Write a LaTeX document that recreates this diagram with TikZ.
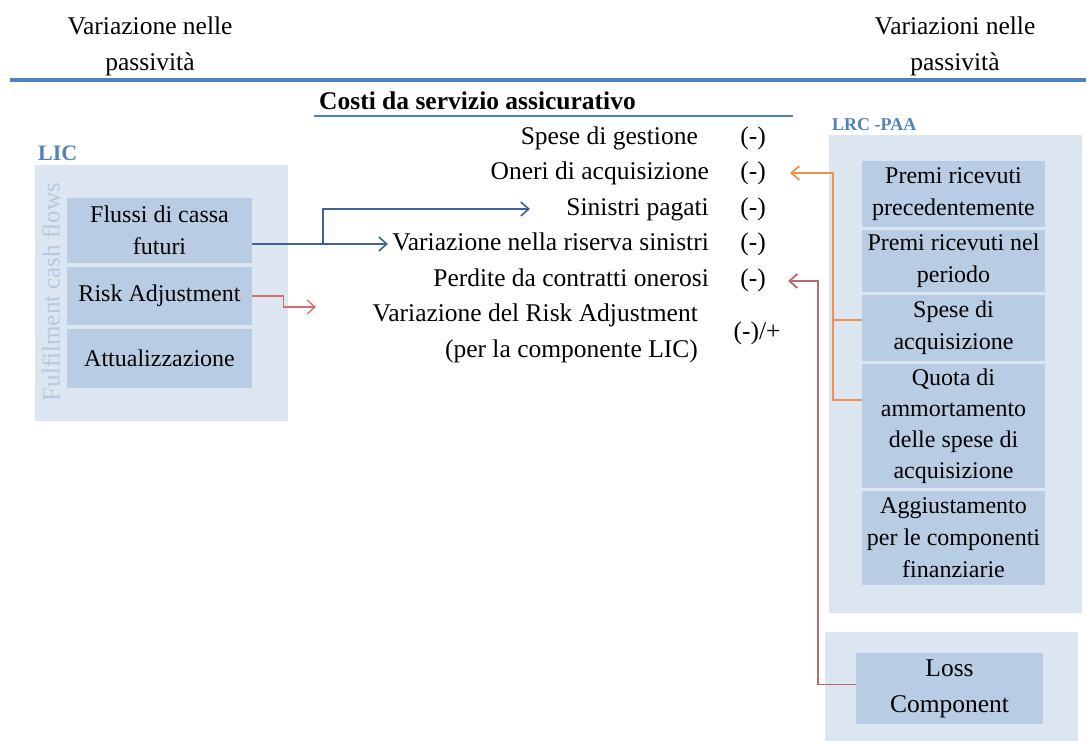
\documentclass[tikz,border=0pt]{standalone}
\usepackage{fontspec}
\setmainfont{Liberation Serif}
\usetikzlibrary{arrows.meta}

\definecolor{outerfill}{HTML}{DCE6F1}
\definecolor{innerfill}{HTML}{B8CCE4}
\definecolor{rulecol}{HTML}{4F81BD}
\definecolor{flowblue}{HTML}{3D6396}
\definecolor{rasalmon}{HTML}{D0716E}
\definecolor{lossred}{HTML}{B86A6A}
\definecolor{acqorange}{HTML}{F0924C}
\definecolor{sidelabel}{HTML}{B3C8E2}

\newcommand\fsz[2]{\fontsize{#1}{#2}\selectfont}

\tikzset{
  panel/.style={fill=outerfill, inner sep=0pt},
  item/.style={fill=innerfill, inner sep=0pt, align=center, font=\fsz{24}{32}},
  lineitem/.style={anchor=east, inner sep=0pt, text height=17pt, text depth=5pt, font=\fsz{25.5}{30}},
  sign/.style={inner sep=0pt, text height=17pt, text depth=5pt, font=\fsz{25.5}{30}},
  heading/.style={align=center, inner sep=0pt, font=\fsz{25.5}{36}},
  grouplabel/.style={anchor=west, inner sep=0pt, text=rulecol, font=\bfseries},
  arr/.style={-{Straight Barb[length=8pt,width=14pt]}},
  bluearr/.style={arr, draw=flowblue, line width=1.6pt},
  raarr/.style={arr, draw=rasalmon, line width=1.3pt},
  acqarr/.style={arr, draw=acqorange, line width=1.8pt},
  lossarr/.style={arr, draw=lossred, line width=1.8pt},
}

\begin{document}
\begin{tikzpicture}[x=1pt,y=-1pt]
\useasboundingbox (0,0) rectangle (1086,740);

% column headings and main rule
\node[heading] (hl) at (150,46) {Variazione nelle\\passività};
\node[heading] (hr) at (955,46) {Variazioni nelle\\passività};
\draw[rulecol, line width=4.5pt] (10,80) -- (1086,80);

% insurance service expenses
\node[anchor=west, inner sep=0pt, font=\fsz{25.5}{30}\bfseries] (costi) at (319,101) {Costi da servizio assicurativo};
\draw[rulecol, line width=2.5pt] (314,116) -- (793,116);

\node[lineitem] (spese)  at (698,138) {Spese di gestione};
\node[lineitem] (oneri)  at (709,173) {Oneri di acquisizione};
\node[lineitem] (sinp)   at (709,209) {Sinistri pagati};
\node[lineitem] (varris) at (709,244) {Variazione nella riserva sinistri};
\node[lineitem] (perd)   at (709,280) {Perdite da contratti onerosi};
\node[lineitem] (varra)  at (698,315) {Variazione del Risk Adjustment};
\node[lineitem] (varra2) at (698,351) {(per la componente LIC)};

\node[sign] (s1) at (753,138) {(-)};
\node[sign] (s2) at (753,173) {(-)};
\node[sign] (s3) at (753,209) {(-)};
\node[sign] (s4) at (753,244) {(-)};
\node[sign] (s5) at (753,280) {(-)};
\node[sign] (s6) at (757,333) {(-)/+};

% LIC block
\node[panel, minimum width=253pt, minimum height=256pt] (lic) at (161.5,293) {};
\node[grouplabel, font=\fsz{22}{26}\bfseries] (liclab) at (38,153) {LIC};
\node[rotate=90, inner sep=0pt, text=sidelabel, font=\fsz{25}{30}] (fcf) at (51,292) {Fulfilment cash flows};
\node[item, minimum width=185pt, minimum height=65pt] (flussi) at (159.5,230.5) {Flussi di cassa\\futuri};
\node[item, minimum width=185pt, minimum height=58pt] (risk) at (159.5,296) {Risk Adjustment};
\node[item, minimum width=185pt, minimum height=59pt] (attual) at (159.5,358.5) {Attualizzazione};

% LRC block
\node[panel, minimum width=253pt, minimum height=478pt] (lrc) at (955.5,374) {};
\node[grouplabel, font=\fsz{18}{22}\bfseries] (lrclab) at (832,125) {LRC -PAA};
\node[item, minimum width=183pt, minimum height=66pt] (premi1) at (953.5,194) {Premi ricevuti\\precedentemente};
\node[item, minimum width=183pt, minimum height=62pt] (premi2) at (953.5,261) {Premi ricevuti nel\\periodo};
\node[item, minimum width=183pt, minimum height=66pt] (speseacq) at (953.5,328) {Spese di\\acquisizione};
\node[item, minimum width=183pt, minimum height=124pt, font=\fsz{24}{31}] (quota) at (953.5,426) {Quota di\\ammortamento\\delle spese di\\acquisizione};
\node[item, minimum width=183pt, minimum height=94pt, font=\fsz{24}{32}] (aggiust) at (953.5,538) {Aggiustamento\\per le componenti\\finanziarie};

% loss component block
\node[panel, minimum width=253pt, minimum height=110pt] (losspanel) at (951.5,687) {};
\node[item, minimum width=187pt, minimum height=71pt, font=\fsz{25.5}{36}] (lossin) at (949.5,688.5) {Loss\\Component};

% connectors
\coordinate (br)     at (323,244);
\coordinate (tipSin) at (530,209);
\coordinate (tipVar) at (388,244);
\draw[bluearr] (flussi.east |- br) -- (tipVar);
\draw[bluearr] (br) |- (tipSin);

\coordinate (tipRA) at (316,307);
\draw[raarr] (risk.east) -- ++(31,0) |- (tipRA);

\coordinate (oTop) at (833,173);
\coordinate (oTip) at (790,173);
\draw[acqarr] ([yshift=26pt]quota.west) -| (oTop) -- (oTip);
\draw[acqorange, line width=1.8pt] ([yshift=8pt]speseacq.west) -- ([yshift=8pt]speseacq.west -| oTop);

\coordinate (rTop) at (818,281);
\coordinate (rTip) at (788,281);
\draw[lossarr] ([yshift=4pt]lossin.west) -| (rTop) -- (rTip);

\end{tikzpicture}
\end{document}
